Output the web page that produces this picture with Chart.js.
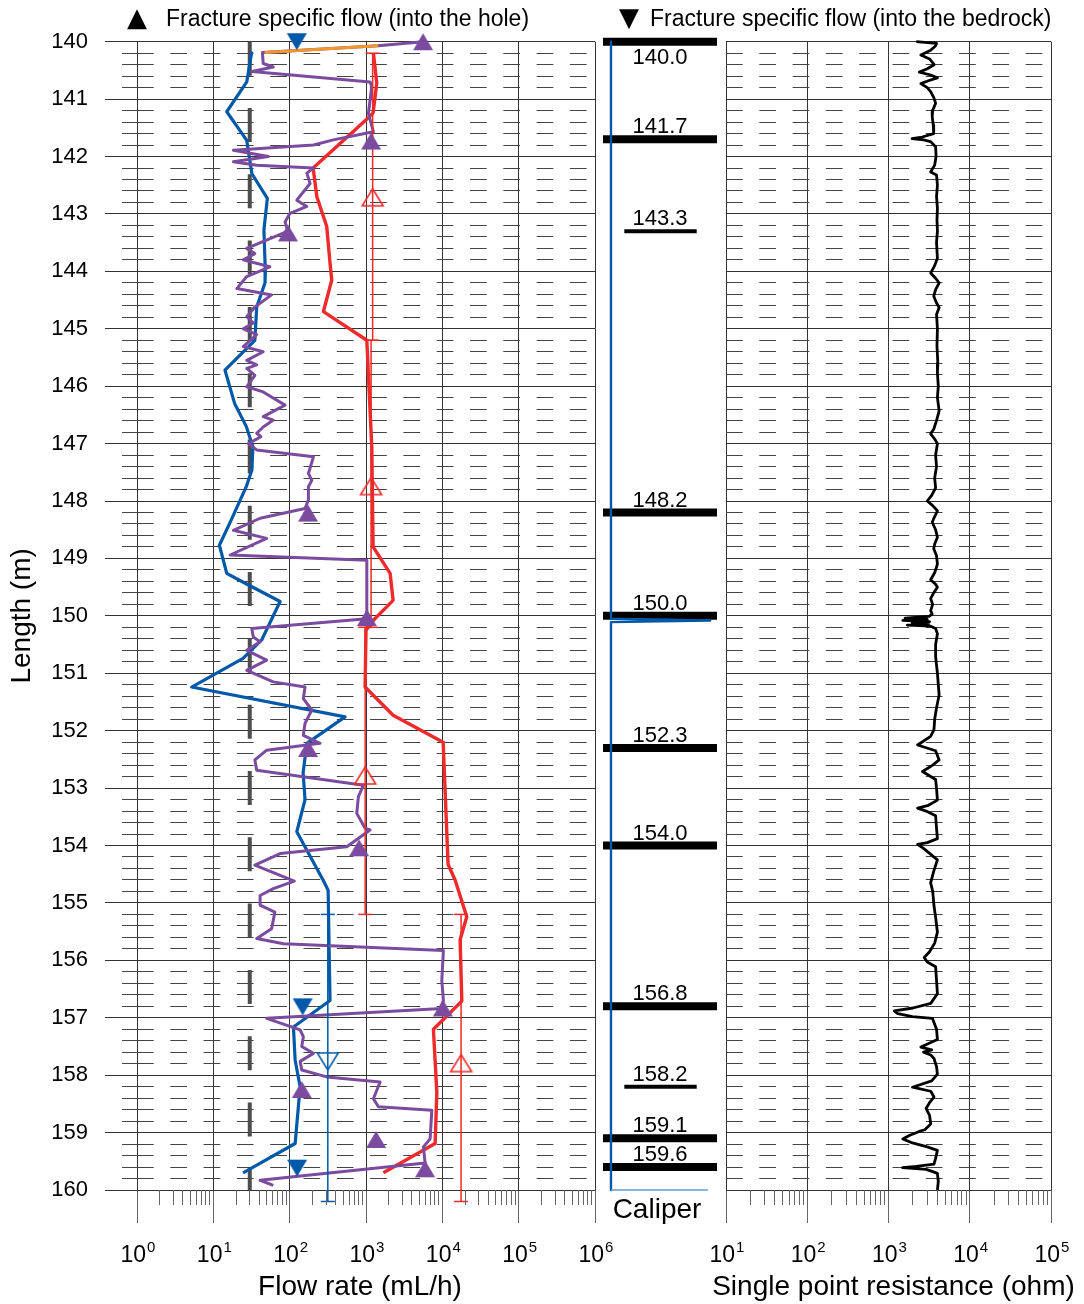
<!DOCTYPE html>
<html>
<head>
<meta charset="utf-8">
<script src="https://cdn.jsdelivr.net/npm/chart.js@4.4.0/dist/chart.umd.min.js"></script>
<style>
html,body{margin:0;padding:0;background:#fff;}
#wrap{position:relative;width:1084px;height:1304px;overflow:hidden;background:#fff;}
canvas{position:absolute;top:0;}
.leg{position:absolute;font-family:"Liberation Sans",Arial,sans-serif;font-size:23px;line-height:23px;color:#000;white-space:nowrap;}
.sym{position:absolute;font-family:"DejaVu Sans",sans-serif;font-size:26px;line-height:26px;color:#000;}
</style>
</head>
<body>
<div id="wrap">
  <canvas id="c1" width="640" height="1304" style="left:0px"></canvas>
  <canvas id="c2" width="126" height="1304" style="left:597px"></canvas>
  <canvas id="c3" width="384" height="1304" style="left:700px"></canvas>
  <div class="sym" style="left:127px;top:4px;">▲</div>
  <div class="leg" style="left:166px;top:7px;">Fracture specific flow (into the hole)</div>
  <div class="sym" style="left:619px;top:4px;">▼</div>
  <div class="leg" style="left:650px;top:7px;">Fracture specific flow (into the bedrock)</div>
</div>
<script>
// ================= DATA =================
const depthTickValues = [140,141,142,143,144,145,146,147,148,149,150,151,152,153,154,155,156,157,158,159,160];
const flowTickValues = [1,10,100,1000,10000,100000,1000000];
const flowTickExponents = ['0','1','2','3','4','5','6'];
const sprTickValues = [10,100,1000,10000,100000];
const sprTickExponents = ['1','2','3','4','5'];

// Flow without pumping (blue)
const blueDepth = [140.17,140.70,141.22,141.72,142.30,142.73,143.28,144.00,144.20,144.62,
  145.20,145.72,146.30,146.70,147.06,147.46,147.75,148.34,148.77,149.26,
  149.38,149.75,150.42,150.74,151.24,151.76,152.22,152.73,153.20,153.76,
  154.60,154.78,156.70,157.16,157.74,158.20,159.19,159.70];
const blueFlow = [31.9,27.4,15,27.4,32,51,46,48,47.6,37,
  35,14.2,19,27,33,32,27,17,12,15,
  22,75,43,24.5,5.2,532,168,150,159,124,
  274,319,338,112,118,137,118,24.5];

// Flow with pumping (red)
const redDepth = [140.20,140.72,141.24,141.33,142.20,142.70,143.22,143.86,144.15,144.70,
  145.20,147.06,148.80,149.26,149.73,150.08,150.25,151.24,151.73,152.20,
  154.33,154.60,155.24,155.64,156.71,157.20,158.30,159.19,159.70];
const redFlow = [1250,1384,1239,1065,203,227,306,338,356,277,
  1025,1191,1239,2070,2265,1239,1000,973,2265,10250,
  11900,14700,20900,17100,18000,7640,8470,8050,1690];

// Detailed flow log (purple)
const purpleDepth = [140.00,140.07,140.19,140.38,140.44,140.52,140.70,140.78,141.25,141.57,
  141.71,141.80,141.89,142.00,142.09,142.15,142.20,142.29,142.47,142.76,
  142.87,142.99,143.14,143.30,143.60,143.69,143.80,143.92,144.09,144.30,
  144.41,144.62,144.79,144.90,145.00,145.10,145.31,145.40,145.55,145.63,
  145.69,145.81,146.01,146.10,146.33,146.53,146.59,146.71,146.82,146.88,
  147.00,147.11,147.23,147.52,147.64,147.75,147.98,148.13,148.30,148.51,
  148.65,148.94,149.03,149.38,149.90,150.05,150.22,150.37,150.45,150.60,
  150.77,150.95,151.15,151.24,151.44,151.64,151.87,152.08,152.22,152.34,
  152.51,152.69,152.95,153.15,153.44,153.70,153.73,154.02,154.14,154.34,
  154.62,154.75,154.87,155.04,155.16,155.45,155.62,155.71,155.83,156.35,
  156.70,156.84,157.01,157.21,157.33,157.50,157.62,157.76,157.91,158.03,
  158.12,158.41,158.55,158.61,159.11,159.25,159.53,159.71,159.83,159.92];
const purpleFlow = [5600,1440,44,45,61,32,1130,1190,1075,1250,
  374,205,18.3,52.6,18.3,37,205,168,185,124,
  168,101,87,95,27.4,35,24.7,55,27.4,20.3,
  58,35,27.4,33.4,24.7,37,24.7,45,27.4,37,
  27.4,35,27.4,45,87,45,61,45,37,42,
  28.8,37,205,176,195,176,176,159,41,18.3,
  50,16.6,1025,1025,1025,1025,31.9,33.4,41,27.4,
  50,27.4,61,159,151,195,159,151,250,50,
  35,37,925,795,757,973,1130,560,75,35,
  115,61,41,41,64,58,37,83,10330,9840,
  10330,9840,50,137,151,144,205,137,144,306,
  1530,1250,1453,7280,6920,5650,5950,306,41,61];

// Orange segment at the top
const orangeDepth = [140.19,140.07];
const orangeFlow = [47,1440];

// Lower measurement limit (dashed)
const limitDepth = [140,160];
const limitFlow = [30,30];

// Fracture specific flow into the hole (filled up triangles)
const inflowDepth = [140.0,141.73,143.33,148.21,150.03,152.31,154.04,156.83,158.25,159.12,159.63];
const inflowValue = [5600,1166,95,174,1025,174,812,10160,144,1357,5950];

// Fracture specific flow into the bedrock (filled down triangles)
const outflowDepth = [140.0,156.81,159.62];
const outflowValue = [124,148,125];

// 5 m section measurements (open markers with section bars)
const sectionTop = [140.2,145.2,150.2,155.2];
const sectionBottom = [145.2,150.2,155.2,160.2];
const sectionMid = [142.71,147.74,152.78,157.79];
const sectionFlowIn = [1222,1166,975,17600];
const sectionOutTop = [155.2];
const sectionOutBottom = [160.2];
const sectionOutMid = [157.76];
const sectionFlowOut = [316];

// Fractures (middle column)
const fractureDepths = [140.0,141.7,143.3,148.2,150.0,152.3,154.0,156.8,158.2,159.1,159.6];
const fractureLabels = ['140.0','141.7','143.3','148.2','150.0','152.3','154.0','156.8','158.2','159.1','159.6'];
const fractureMinor = [false,false,true,false,false,false,false,false,true,false,false];

// Caliper (arbitrary units)
const caliperDepth = [140.0,150.05,150.08,150.11,160.0];
const caliperValue = [0.7,0.7,9.4,0.7,0.7];

// Single point resistance (ohm)
const sprDepth = [140.00,140.03,140.07,140.15,140.23,140.30,140.40,140.47,140.53,140.58,
  140.63,140.68,140.73,140.80,140.87,140.97,141.07,141.20,141.30,141.45,
  141.60,141.66,141.69,141.71,141.74,141.83,142.00,142.15,142.27,142.32,
  142.50,142.70,142.90,143.10,143.30,143.50,143.77,143.90,144.03,144.12,
  144.20,144.32,144.43,144.55,144.63,144.75,145.00,145.30,145.60,145.77,
  146.00,146.20,146.43,146.60,146.75,146.83,146.92,147.00,147.20,147.40,
  147.60,147.77,147.90,148.00,148.08,148.17,148.27,148.37,148.50,148.63,
  148.75,148.83,148.95,149.10,149.25,149.37,149.45,149.50,149.60,149.70,
  149.80,149.91,149.97,150.01,150.04,150.06,150.08,150.10,150.12,150.14,
  150.16,150.18,150.22,150.31,150.50,150.71,151.00,151.38,151.60,151.80,
  151.98,152.10,152.25,152.35,152.51,152.60,152.71,152.85,153.00,153.21,
  153.30,153.35,153.40,153.48,153.70,153.88,153.95,153.98,154.05,154.25,
  154.45,154.65,154.80,155.05,155.25,155.51,155.70,155.85,155.95,156.03,
  156.11,156.35,156.58,156.75,156.83,156.88,156.93,156.98,157.01,157.20,
  157.38,157.51,157.56,157.60,157.65,157.71,157.85,157.98,158.10,158.21,
  158.28,158.38,158.48,158.58,158.70,158.85,158.95,158.98,159.05,159.11,
  159.18,159.25,159.31,159.45,159.55,159.59,159.61,159.64,159.68,159.71,
  159.85,160.00];
const sprValue = [2200,3900,3800,3300,2500,3200,3650,3000,2400,3300,
  4000,3100,2500,3000,3300,3600,3800,3500,3450,3550,
  3600,2600,1950,2700,3300,3800,3850,3700,3300,3900,
  4000,3900,4000,3950,4000,3900,4000,3700,3300,3800,
  4200,3800,3600,3900,4200,3900,4000,3950,4050,4000,
  4100,4000,4200,3900,3600,3300,3700,4000,3800,3900,
  3700,3800,3400,3000,3500,4000,3700,3450,3800,4000,
  3700,3600,3900,4000,3700,3300,3800,4000,3600,3300,
  3500,3300,3450,3150,1600,3000,1500,3200,1950,3100,
  1700,3300,3800,4000,3800,3800,4000,4200,3900,3700,
  3630,3300,2280,3800,4200,3500,2620,3800,3900,4000,
  3100,2280,2900,3800,3900,4000,3000,2280,2700,4000,
  3600,3300,3500,3630,3800,4000,3700,3200,2750,3000,
  3800,3900,4000,3310,2000,1180,1300,1970,3470,3900,
  4000,2500,3400,2700,3310,3630,3900,4000,3400,1970,
  3310,3630,3200,2900,3200,3310,2800,2390,1800,1500,
  1970,3000,4000,3800,3630,2200,1490,2900,3500,4000,
  4100,4000];

// ================= STYLE / HELPERS =================
const FONT = '"Liberation Sans", Arial, sans-serif';
Chart.defaults.font.family = FONT;
Chart.defaults.color = '#000';
Chart.defaults.animation = false;

const C_BLUE = '#0059A8', C_RED = '#EE2A2A', C_PURPLE = '#7A4B9E', C_ORANGE = '#F5962A', C_LIMIT = '#4D4D4D';
const xy = (xs, ys) => xs.map((x, i) => ({x: x, y: ys[i]}));

function triangle(w, h, up, fill, stroke, lw) {
  const pad = 2, c = document.createElement('canvas');
  c.width = Math.ceil(w + pad * 2); c.height = Math.ceil(h + pad * 2);
  const g = c.getContext('2d');
  g.beginPath();
  if (up) { g.moveTo(c.width / 2, pad); g.lineTo(pad + w, pad + h); g.lineTo(pad, pad + h); }
  else { g.moveTo(pad, pad); g.lineTo(pad + w, pad); g.lineTo(c.width / 2, pad + h); }
  g.closePath();
  if (fill) { g.fillStyle = fill; g.fill(); }
  if (stroke) { g.strokeStyle = stroke; g.lineWidth = lw; g.stroke(); }
  return c;
}
const triPurple = triangle(20, 17, true, C_PURPLE);
const triBlueDown = triangle(20, 17, false, C_BLUE);
const triRedOpen = triangle(21, 17, true, null, C_RED, 1.6);
const triBlueOpen = triangle(21, 17, false, null, C_BLUE, 1.6);

function logMinor(e0, e1) { const out = []; for (let e = e0; e < e1; e++) for (let m = 2; m <= 9; m++) out.push(m * Math.pow(10, e)); return out; }
const yMinor = []; for (let i = 1; i < 100; i++) if (i % 5) yMinor.push(140 + i / 5);

const helperPlugin = {
  id: 'helper',
  afterDatasetsDraw(chart, args, o) {
    const ctx = chart.ctx, a = chart.chartArea;
    ctx.save();
    ctx.lineWidth = 1;
    if (o.xMinor) {
      const sx = chart.scales.x; ctx.strokeStyle = '#666';
      o.xMinor.forEach(v => { const p = Math.round(sx.getPixelForValue(v) - 0.5) + 0.5;
        ctx.beginPath(); ctx.moveTo(p, a.bottom); ctx.lineTo(p, a.bottom + o.xLen); ctx.stroke(); });
    }
    if (o.yMinor) {
      const sy = chart.scales.y; ctx.strokeStyle = '#444';
      o.yMinor.forEach(v => { const p = Math.round(sy.getPixelForValue(v) - 0.5) + 0.5;
        ctx.beginPath(); ctx.moveTo(a.left - o.yLen, p); ctx.lineTo(a.left, p); ctx.stroke(); });
    }
    if (o.xValues) {
      const sx = chart.scales.x; ctx.fillStyle = '#000'; ctx.textBaseline = 'alphabetic'; ctx.textAlign = 'left';
      const base = a.bottom + 72;
      o.xValues.forEach((v, i) => {
        const p = sx.getPixelForValue(v);
        ctx.font = '23px ' + FONT; const wb = ctx.measureText('10').width;
        ctx.font = '15px ' + FONT; const we = ctx.measureText(o.xExp[i]).width;
        const x0 = p - (wb + 1 + we) / 2 + 1;
        ctx.font = '23px ' + FONT; ctx.fillText('10', x0, base);
        ctx.font = '15px ' + FONT; ctx.fillText(o.xExp[i], x0 + wb + 1, base - 10);
      });
    }
    if (o.title) {
      ctx.fillStyle = '#000'; ctx.font = o.title.size + 'px ' + FONT;
      ctx.textAlign = 'center'; ctx.textBaseline = 'middle';
      ctx.fillText(o.title.text, (a.left + a.right) / 2 + o.title.dx, a.bottom + o.title.dy);
    }
    if (o.labels) {
      const sy = chart.scales.y;
      ctx.fillStyle = '#000'; ctx.font = '22px ' + FONT; ctx.textAlign = 'center'; ctx.textBaseline = 'middle';
      const cx = (a.left + a.right) / 2;
      fractureDepths.forEach((d, i) => {
        const p = sy.getPixelForValue(d);
        ctx.fillText(fractureLabels[i], cx, i === 0 ? p + 16 : p - 12);
      });
    }
    ctx.restore();
  }
};

function lineDS(xs, ys, color, width, order, extra) {
  return Object.assign({ data: xy(xs, ys), showLine: true, borderColor: color, backgroundColor: color,
    borderWidth: width, pointRadius: 0, pointHoverRadius: 0, clip: false, order: order,
    borderJoinStyle: 'round', tension: 0 }, extra || {});
}
function markerDS(xs, ys, img, order) {
  return { data: xy(xs, ys), showLine: false, pointStyle: img, pointRadius: 10, pointHoverRadius: 10,
    clip: false, order: order };
}
function barDS(v, top, bottom, color, order) {
  return { data: [{x: v, y: top}, {x: v, y: bottom}], showLine: true, borderColor: color, borderWidth: 1.5,
    pointStyle: 'line', pointRadius: 7, pointHoverRadius: 22, pointBorderColor: color, pointBorderWidth: 1.5,
    pointBackgroundColor: color, clip: false, order: order };
}

const depthY = (extra) => Object.assign({ type: 'linear', min: 140, max: 160, reverse: true,
  afterBuildTicks: s => { s.ticks = depthTickValues.map(v => ({value: v})); } }, extra);
const minorY = () => ({ type: 'linear', min: 140, max: 160, reverse: true, position: 'right',
  afterBuildTicks: s => { s.ticks = yMinor.map(v => ({value: v})); },
  afterFit: s => { s.width = 0; s.paddingTop = 0; s.paddingBottom = 0; },
  grid: { color: '#444', lineWidth: 1, drawTicks: false, tickLength: 0 },
  border: { display: false, dash: [16.7, 16.6] }, ticks: { display: false } });

// ================= CHART 1: FLOW =================
const ds1 = [];
ds1.push(lineDS(limitFlow, limitDepth, C_LIMIT, 4, 9, { borderDash: [34, 32.3], borderCapStyle: 'butt' }));
ds1.push(lineDS(blueFlow, blueDepth, C_BLUE, 3.2, 7));
sectionTop.forEach((t, i) => ds1.push(barDS(sectionFlowIn[i], t, sectionBottom[i], C_RED, 3)));
sectionOutTop.forEach((t, i) => ds1.push(barDS(sectionFlowOut[i], t, sectionOutBottom[i], C_BLUE, 3)));
ds1.push(lineDS(redFlow, redDepth, C_RED, 3.4, 6));
ds1.push(lineDS(purpleFlow, purpleDepth, C_PURPLE, 3, 5));
ds1.push(lineDS(orangeFlow, orangeDepth, C_ORANGE, 3, 4));
ds1.push(markerDS(sectionFlowIn, sectionMid, triRedOpen, 2));
ds1.push(markerDS(sectionFlowOut, sectionOutMid, triBlueOpen, 2));
ds1.push(markerDS(inflowValue, inflowDepth, triPurple, 1));
ds1.push(markerDS(outflowValue, outflowDepth, triBlueDown, 0));

new Chart(document.getElementById('c1'), {
  type: 'scatter',
  data: { datasets: ds1 },
  plugins: [helperPlugin],
  options: {
    responsive: false, animation: false, events: [],
    layout: { padding: { top: 41.7, right: 45, bottom: 0, left: 0 } },
    plugins: { legend: { display: false }, tooltip: { enabled: false },
      helper: { xMinor: logMinor(0, 6), xLen: 15, yMinor: yMinor, yLen: 15,
        xValues: flowTickValues, xExp: flowTickExponents,
        title: { text: 'Flow rate (mL/h)', size: 28, dx: -6, dy: 97 } } },
    scales: {
      x: { type: 'logarithmic', min: 1, max: 1e6, position: 'bottom',
        afterBuildTicks: s => { s.ticks = flowTickValues.map(v => ({value: v})); },
        afterFit: s => { s.height = 114; s.paddingLeft = 0; s.paddingRight = 0; },
        grid: { color: '#333', lineWidth: 1, tickLength: 33, tickColor: '#666', tickWidth: 1 },
        border: { display: false },
        ticks: { autoSkip: false, maxRotation: 0, minRotation: 0, padding: 17, font: { size: 23 },
          callback: () => '' },
        title: { display: false } },
      y: depthY({ position: 'left',
        afterFit: s => { s.width = 137; s.paddingTop = 0; s.paddingBottom = 0; },
        grid: { color: '#333', lineWidth: 1, tickLength: 32, tickColor: '#333' },
        border: { display: false },
        ticks: { padding: 17, font: { size: 22 }, callback: v => String(v) },
        title: { display: true, text: 'Length (m)', font: { size: 28 }, padding: { top: 5, bottom: 0 } } }),
      y2: minorY()
    }
  }
});

// ================= CHART 2: FRACTURES + CALIPER =================
const ds2 = [];
fractureDepths.forEach((d, i) => {
  const minor = fractureMinor[i];
  ds2.push({ data: [{x: minor ? 1.87 : 0, y: d}, {x: minor ? 8.22 : 10, y: d}], showLine: true,
    borderColor: '#000', borderWidth: minor ? 4 : 8, borderCapStyle: 'butt', pointRadius: 0, pointHoverRadius: 0,
    clip: false, order: 2 });
});
ds2.push(lineDS(caliperValue, caliperDepth, C_BLUE, 2.4, 1));
ds2.push(lineDS([0.7, 9.2], [160, 160], '#5B9BD5', 1.5, 0));

new Chart(document.getElementById('c2'), {
  type: 'scatter',
  data: { datasets: ds2 },
  plugins: [helperPlugin],
  options: {
    responsive: false, animation: false, events: [],
    layout: { padding: { top: 41.7, right: 6, bottom: 0, left: 6 } },
    plugins: { legend: { display: false }, tooltip: { enabled: false }, helper: { labels: true,
      title: { text: 'Caliper', size: 28, dx: -3, dy: 20 } } },
    scales: {
      x: { type: 'linear', min: 0, max: 10, position: 'bottom',
        afterFit: s => { s.height = 114; s.paddingLeft = 0; s.paddingRight = 0; },
        grid: { display: false }, border: { display: false }, ticks: { display: false },
        title: { display: false } },
      y: { type: 'linear', min: 140, max: 160, reverse: true, display: false }
    }
  }
});

// ================= CHART 3: SINGLE POINT RESISTANCE =================
new Chart(document.getElementById('c3'), {
  type: 'scatter',
  data: { datasets: [ lineDS(sprValue, sprDepth, '#000', 2.8, 0) ] },
  plugins: [helperPlugin],
  options: {
    responsive: false, animation: false, events: [],
    layout: { padding: { top: 41.7, right: 33, bottom: 0, left: 26 } },
    plugins: { legend: { display: false }, tooltip: { enabled: false },
      helper: { xMinor: logMinor(1, 5), xLen: 15, xValues: sprTickValues, xExp: sprTickExponents,
        title: { text: 'Single point resistance (ohm)', size: 28, dx: 5, dy: 97 } } },
    scales: {
      x: { type: 'logarithmic', min: 10, max: 1e5, position: 'bottom',
        afterBuildTicks: s => { s.ticks = sprTickValues.map(v => ({value: v})); },
        afterFit: s => { s.height = 114; s.paddingLeft = 0; s.paddingRight = 0; },
        grid: { color: '#333', lineWidth: 1, tickLength: 33, tickColor: '#666', tickWidth: 1 },
        border: { display: false },
        ticks: { autoSkip: false, maxRotation: 0, minRotation: 0, padding: 17, font: { size: 23 },
          callback: () => '' },
        title: { display: false } },
      y: depthY({ position: 'left',
        afterFit: s => { s.width = 0; s.paddingTop = 0; s.paddingBottom = 0; },
        grid: { color: '#333', lineWidth: 1, drawTicks: false, tickLength: 0 },
        border: { display: false }, ticks: { display: false } }),
      y2: minorY()
    }
  }
});
</script>
</body>
</html>
